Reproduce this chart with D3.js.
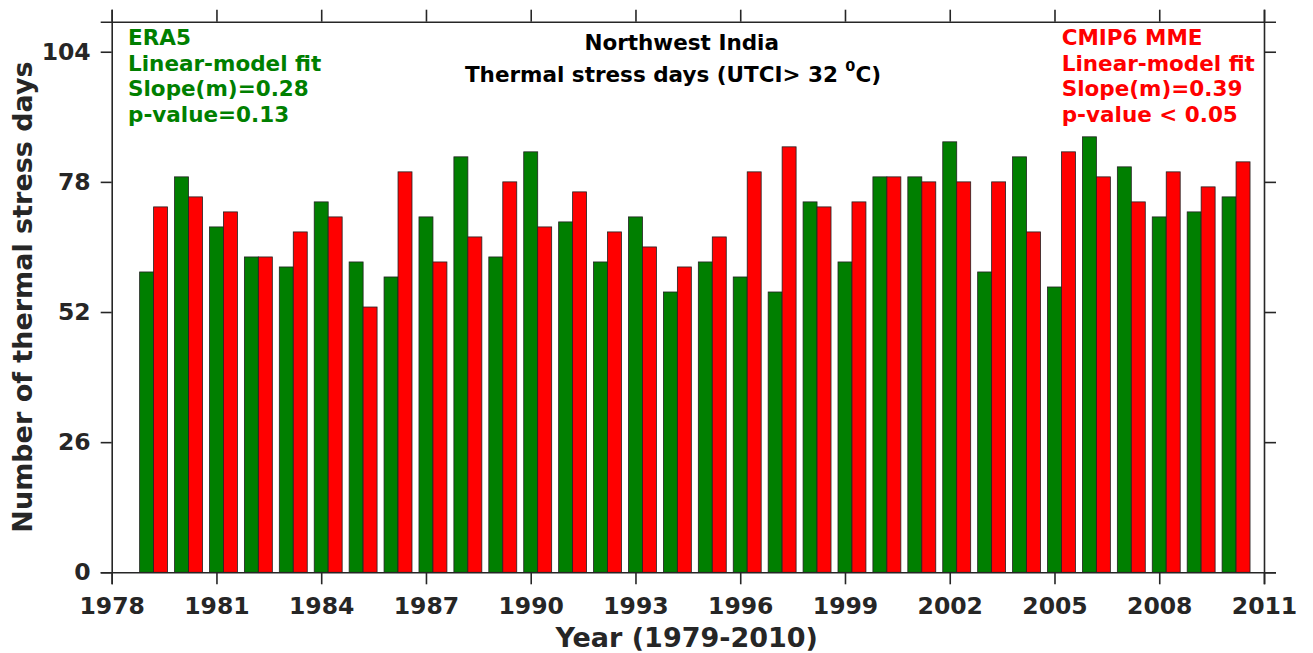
<!DOCTYPE html>
<html>
<head>
<meta charset="utf-8">
<script src="https://cdn.jsdelivr.net/npm/d3@7"></script>
<style>
  body { margin: 0; background: #fff; }
  svg { display: block; font-family: "DejaVu Sans", sans-serif; font-weight: bold; }
  .axis path, .axis line { stroke: #262626; stroke-width: 1.6; }
  .axis text { fill: #262626; font-size: 23.5px; font-family: "DejaVu Sans", sans-serif; font-weight: bold; }
</style>
</head>
<body>
<div id="chart"></div>
<script>
// years on the x axis, one green (ERA5) and one red (CMIP6 MME) bar each
const years = [1979, 1980, 1981, 1982, 1983, 1984, 1985, 1986, 1987, 1988, 1989, 1990,
  1991, 1992, 1993, 1994, 1995, 1996, 1997, 1998, 1999, 2000, 2001, 2002,
  2003, 2004, 2005, 2006, 2007, 2008, 2009, 2010]

const era5 = [60, 79, 69, 63, 61, 74, 62, 59, 71, 83, 63, 84,
  70, 62, 71, 56, 62, 59, 56, 74, 62, 79, 79, 86,
  60, 83, 57, 87, 81, 71, 72, 75]

const cmip6 = [73, 75, 72, 63, 68, 71, 53, 80, 62, 67, 78, 69,
  76, 68, 65, 61, 67, 80, 85, 73, 74, 79, 78, 78,
  78, 68, 84, 79, 74, 80, 77, 82]

const xTicks = [1978, 1981, 1984, 1987, 1990, 1993, 1996, 1999, 2002, 2005, 2008, 2011]
const yTicks = [0, 26, 52, 78, 104]

const era5Notes = ["ERA5", "Linear-model fit", "Slope(m)=0.28", "p-value=0.13"]
const cmip6Notes = ["CMIP6 MME", "Linear-model fit", "Slope(m)=0.39", "p-value < 0.05"]

const GREEN = "#007f00"
const RED = "#ff0000"
const INK = "#262626"

const width = 1313
const height = 653
const margin = {top: 21.7, right: 49, bottom: 80.7, left: 111.7}

const x = d3.scaleLinear()
  .domain([1978, 2011])
  .range([margin.left, width - margin.right])

const y = d3.scaleLinear()
  .domain([0, 110])
  .range([height - margin.bottom, margin.top])

const svg = d3.select("#chart").append("svg")
  .attr("width", width)
  .attr("height", height)

svg.append("rect")
  .attr("width", width)
  .attr("height", height)
  .attr("fill", "#fff")

// bars: green sits on the year, red just to the right of it
const barW = 0.4
const series = [
  {values: era5, color: GREEN, offset: -barW / 2},
  {values: cmip6, color: RED, offset: barW / 2}
]

series.forEach(s => {
  svg.append("g")
    .selectAll("rect")
    .data(years.map((yr, i) => ({yr, v: s.values[i]})))
    .join("rect")
    .attr("x", d => x(d.yr + s.offset))
    .attr("width", d => x(d.yr + s.offset + barW) - x(d.yr + s.offset))
    .attr("y", d => y(d.v))
    .attr("height", d => y(0) - y(d.v))
    .attr("fill", s.color)
    .attr("stroke", "#222")
    .attr("stroke-width", 0.8)
})

// boxed axes, MATLAB style, ticks pointing out
svg.append("g")
  .attr("class", "axis")
  .attr("transform", `translate(0,${y(0)})`)
  .call(d3.axisBottom(x).tickValues(xTicks).tickFormat(d3.format("d"))
    .tickSizeInner(12).tickSizeOuter(12).tickPadding(13))

svg.append("g")
  .attr("class", "axis")
  .attr("transform", `translate(0,${y(110)})`)
  .call(d3.axisTop(x).tickValues(xTicks).tickFormat("")
    .tickSizeInner(12).tickSizeOuter(12))

svg.append("g")
  .attr("class", "axis")
  .attr("transform", `translate(${x(1978)},0)`)
  .call(d3.axisLeft(y).tickValues(yTicks).tickFormat(d3.format("d"))
    .tickSizeInner(11).tickSizeOuter(11).tickPadding(10))

svg.append("g")
  .attr("class", "axis")
  .attr("transform", `translate(${x(2011)},0)`)
  .call(d3.axisRight(y).tickValues(yTicks).tickFormat("")
    .tickSizeInner(12).tickSizeOuter(12))

// axis titles
svg.append("text")
  .attr("x", 686.7)
  .attr("y", 647)
  .attr("text-anchor", "middle")
  .attr("font-size", 27)
  .attr("fill", INK)
  .text("Year (1979-2010)")

svg.append("text")
  .attr("transform", `translate(32,${(y(0) + y(110)) / 2}) rotate(-90)`)
  .attr("text-anchor", "middle")
  .attr("font-size", 27)
  .attr("fill", INK)
  .text("Number of thermal stress days")

// chart title
svg.append("text")
  .attr("x", 681.7)
  .attr("y", 50)
  .attr("text-anchor", "middle")
  .attr("font-size", 21.5)
  .attr("fill", "#000")
  .text("Northwest India")

const sub = svg.append("text")
  .attr("x", 673)
  .attr("y", 82)
  .attr("text-anchor", "middle")
  .attr("font-size", 21.5)
  .attr("fill", "#000")
sub.append("tspan").text("Thermal stress days (UTCI> 32 ")
sub.append("tspan").attr("dy", -11).attr("font-size", 14.5).text("0")
sub.append("tspan").attr("dy", 11).text("C)")

// fit annotations
const notes = (lines, x0, color) => {
  svg.append("g")
    .selectAll("text")
    .data(lines)
    .join("text")
    .attr("x", x0)
    .attr("y", (d, i) => 45 + i * 25.5)
    .attr("font-size", 21.5)
    .attr("fill", color)
    .text(d => d)
}
notes(era5Notes, 128, GREEN)
notes(cmip6Notes, 1061.7, RED)
</script>
</body>
</html>
